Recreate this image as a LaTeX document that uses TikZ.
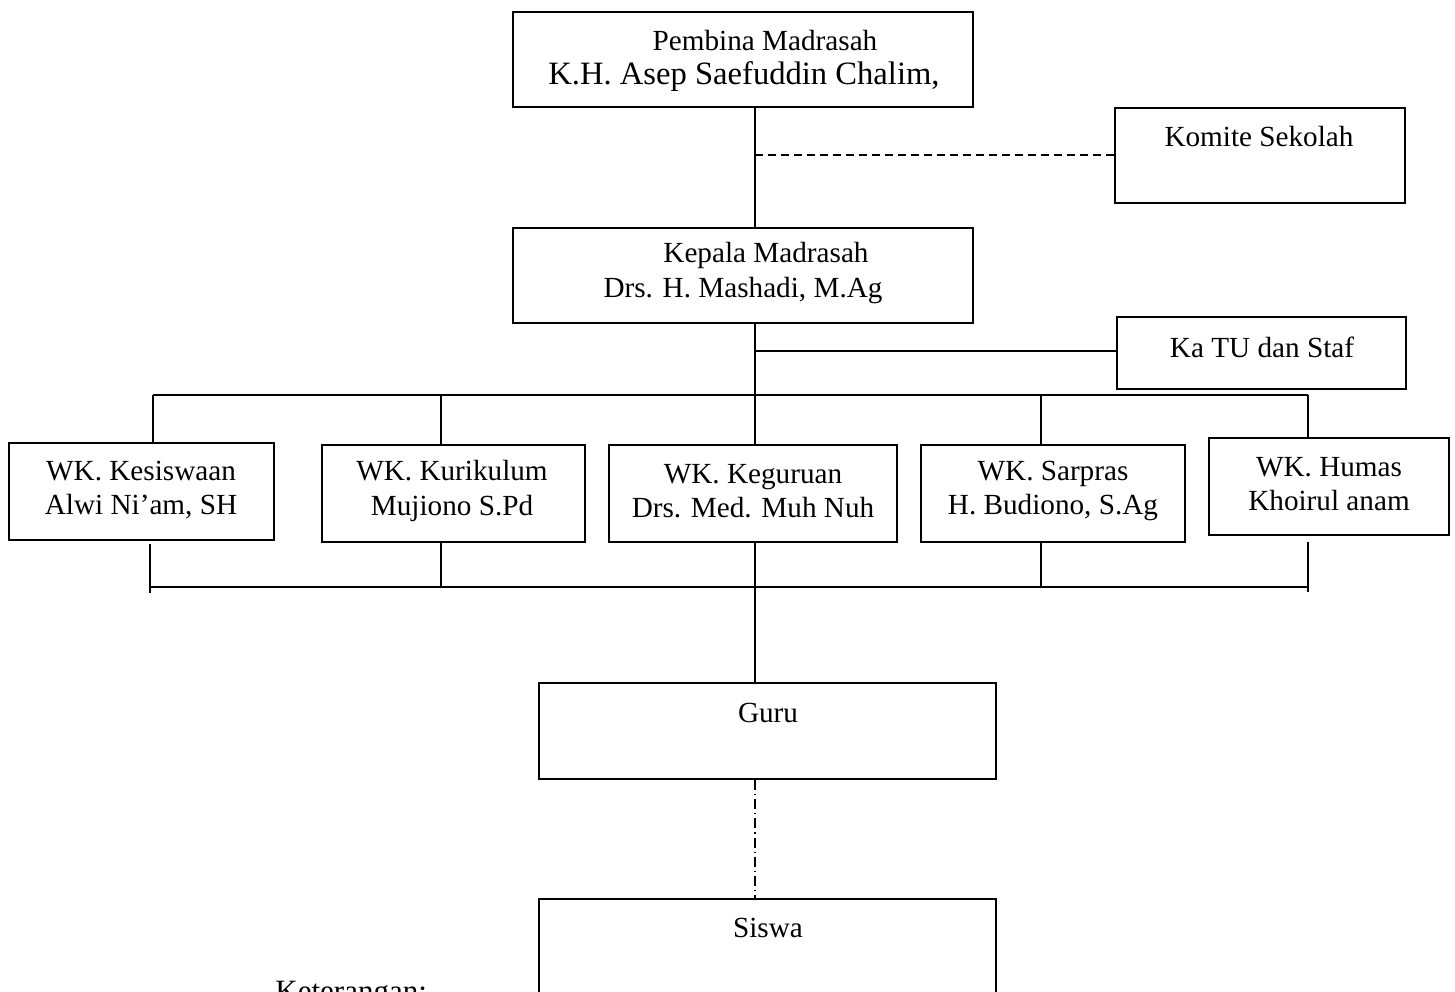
\documentclass[tikz,border=0pt]{standalone}
\usepackage{fontspec}
\setmainfont{Liberation Serif}
\usetikzlibrary{fit}
\begin{document}
\begin{tikzpicture}[x=0.5pt,y=-0.5pt,
  box/.style={draw,line width=0.9pt,inner sep=0pt,fit={#1}},
  txt/.style={align=center,inner sep=0pt,font=\fontsize{14.6}{17.2}\selectfont},
  conn/.style={line width=0.8pt},
  bus/.style={line width=1pt},
  komdash/.style={line width=0.8pt,dash pattern=on 4pt off 2.5pt},
  dashdot/.style={line width=0.6pt,dash pattern=on 5pt off 2pt on 0.6pt off 2pt}]
\useasboundingbox (0,0) rectangle (1455,991);
\clip (0,0) rectangle (1455,991);
% boxes
\node[box={(513,12) (973,107)}] (pembina) {};
\node[box={(1115,108) (1405,203)}] (komite) {};
\node[box={(513,228) (973,323)}] (kepala) {};
\node[box={(1117,317) (1406,389)}] (katu) {};
\node[box={(9,443) (274,540)}] (kesiswaan) {};
\node[box={(322,445) (585,542)}] (kurikulum) {};
\node[box={(609,445) (897,542)}] (keguruan) {};
\node[box={(921,445) (1185,542)}] (sarpras) {};
\node[box={(1209,438) (1449,535)}] (humas) {};
\node[box={(539,683) (996,779)}] (guru) {};
\node[box={(539,899) (996,1060)}] (siswa) {};
% texts
\node[txt] (pembinaT1) at (765,41) {Pembina Madrasah};
\node[txt,font=\fontsize{16.3}{19}\selectfont] (pembinaT2) at (744,76) {K.H. Asep Saefuddin Chalim,};
\node[txt] (komiteT) at (1259,137) {Komite Sekolah};
\node[txt] (kepalaT) at (743,273) {\hspace*{23pt}Kepala Madrasah\\Drs. H. Mashadi, M.Ag};
\node[txt] (katuT) at (1262,347) {Ka TU dan Staf};
\node[txt] (kesiswaanT) at (141,490) {WK. Kesiswaan\\Alwi Ni’am, SH};
\node[txt] (kurikulumT) at (452,491) {WK. Kurikulum\\Mujiono S.Pd};
\node[txt] (keguruanT) at (753,491) {WK. Keguruan\\Drs. Med. Muh Nuh};
\node[txt] (sarprasT) at (1053,491) {WK. Sarpras\\H. Budiono, S.Ag};
\node[txt] (humasT) at (1329,484) {WK. Humas\\Khoirul anam};
\node[txt] (guruT) at (768,713) {Guru};
\node[txt] (siswaT) at (768,928) {Siswa};
\node[inner sep=0pt,anchor=base west,font=\fontsize{15.5}{18}\selectfont] (ket) at (275,1001) {Keterangan:};
% helper coordinates
\coordinate (spine) at (755,0);
\coordinate (dashrow) at (0,155);
\coordinate (turow) at (0,351);
\coordinate (bus1L) at (153,395);
\coordinate (bus1R) at (1308,395);
\coordinate (bus2L) at (150,587);
\coordinate (bus2R) at (1308,587);
\coordinate (kesDropTop) at (150,544);
\coordinate (kesDropBot) at (150,593);
\coordinate (humDropTop) at (1308,542);
\coordinate (humDropBot) at (1308,592);
\coordinate (kurX) at (441,0);
\coordinate (sarX) at (1041,0);
% connectors
\draw[conn] (pembina.south -| spine) -- (kepala.north -| spine);
\draw[komdash] (spine |- dashrow) -- (komite.west |- dashrow);
\draw[conn] (kepala.south -| spine) -- (spine |- bus1L);
\draw[conn] (spine |- turow) -- (katu.west |- turow);
\draw[bus] (bus1L) -- (bus1R);
\draw[conn] (bus1L) -- (kesiswaan.north -| bus1L);
\draw[conn] (kurX |- bus1L) -- (kurikulum.north -| kurX);
\draw[conn] (spine |- bus1L) -- (keguruan.north -| spine);
\draw[conn] (sarX |- bus1L) -- (sarpras.north -| sarX);
\draw[conn] (bus1R) -- (humas.north -| bus1R);
\draw[conn] (kesDropTop) -- (kesDropBot);
\draw[conn] (kurikulum.south -| kurX) -- (kurX |- bus2L);
\draw[conn] (keguruan.south -| spine) -- (spine |- bus2L);
\draw[conn] (sarpras.south -| sarX) -- (sarX |- bus2L);
\draw[conn] (humDropTop) -- (humDropBot);
\draw[bus] (bus2L) -- (bus2R);
\draw[conn] (spine |- bus2L) -- (guru.north -| spine);
\draw[dashdot] (guru.south -| spine) -- (siswa.north -| spine);
\end{tikzpicture}
\end{document}
